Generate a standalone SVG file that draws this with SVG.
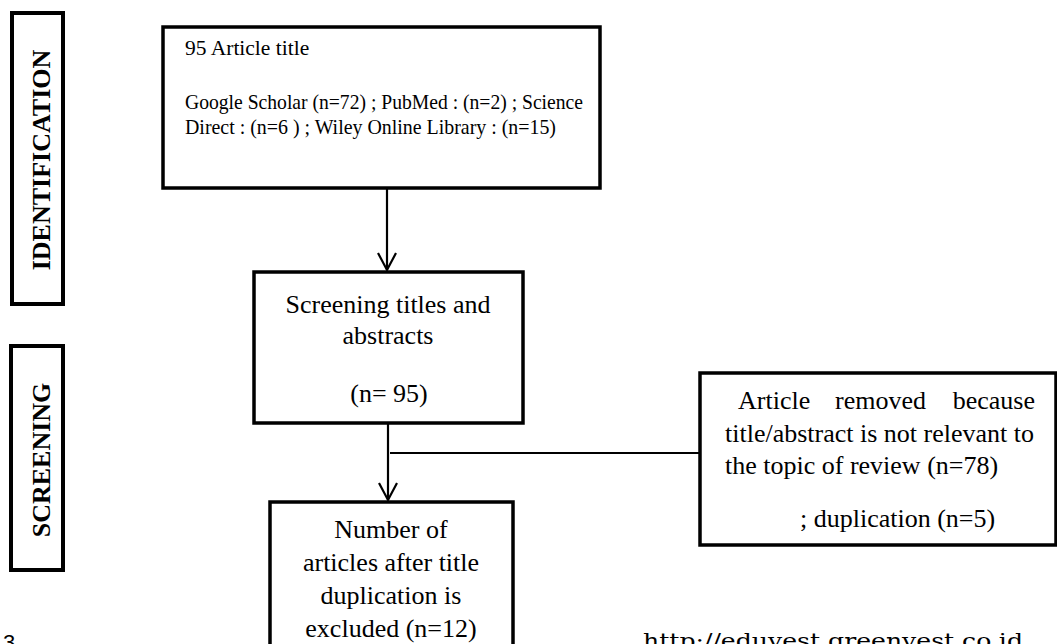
<svg xmlns="http://www.w3.org/2000/svg" width="1057" height="644" viewBox="0 0 1057 644">
  <style>
    .box { fill: #ffffff; stroke: #000000; stroke-width: 3.5; }
    .lbl { fill: #ffffff; stroke: #000000; stroke-width: 4; }
    .t { font-family: "Liberation Serif", "Times New Roman", serif; font-size: 26px; fill: #000000; }
    .ts { font-family: "Liberation Serif", "Times New Roman", serif; font-size: 21.5px; fill: #000000; }
    .tc { text-anchor: middle; }
    .vb { font-family: "Liberation Serif", "Times New Roman", serif; font-size: 26px; font-weight: bold; fill: #000000; text-anchor: middle; }
    .conn { stroke: #000000; stroke-width: 2.2; fill: none; }
  </style>
  <defs>
    <marker id="open" markerWidth="22" markerHeight="20" refX="18" refY="10" orient="auto" markerUnits="userSpaceOnUse">
      <path d="M1,1 L18,10 L1,19" fill="none" stroke="#000000" stroke-width="2.2"/>
    </marker>
  </defs>
  <rect width="1057" height="644" fill="#ffffff"/>

  <g id="label-identification">
    <rect class="lbl" x="12" y="13" width="51" height="291"/>
    <text class="vb" transform="translate(50,160) rotate(-90)">IDENTIFICATION</text>
  </g>
  <g id="label-screening">
    <rect class="lbl" x="11" y="346" width="52" height="224"/>
    <text class="vb" transform="translate(50,460) rotate(-90)">SCREENING</text>
  </g>

  <g id="node-identification">
    <rect class="box" x="163" y="27" width="437" height="161"/>
    <text class="ts" x="185" y="55">95 Article title</text>
    <text class="ts" x="185" y="109" textLength="398" lengthAdjust="spacingAndGlyphs">Google Scholar (n=72) ; PubMed : (n=2) ; Science</text>
    <text class="ts" x="185" y="134" textLength="371" lengthAdjust="spacingAndGlyphs">Direct : (n=6 ) ; Wiley Online Library : (n=15)</text>
  </g>

  <g id="node-screening">
    <rect class="box" x="254" y="272" width="269" height="151"/>
    <text class="t tc" x="388" y="313">Screening titles and</text>
    <text class="t tc" x="388" y="344">abstracts</text>
    <text class="t tc" x="389" y="402">(n= 95)</text>
  </g>

  <g id="node-removed">
    <rect class="box" x="700" y="373" width="356" height="172"/>
    <text class="t" x="738" y="409">Article</text>
    <text class="t" x="835" y="409">removed</text>
    <text class="t" x="1035" y="409" text-anchor="end">because</text>
    <text class="t" x="725" y="442">title/abstract is not relevant to</text>
    <text class="t" x="725" y="474">the topic of review (n=78)</text>
    <text class="t" x="800" y="527">; duplication (n=5)</text>
  </g>

  <g id="node-included">
    <rect class="box" x="270" y="502" width="243" height="160"/>
    <text class="t tc" x="391" y="538">Number of</text>
    <text class="t tc" x="391" y="571">articles after title</text>
    <text class="t tc" x="391" y="604">duplication is</text>
    <text class="t tc" x="391" y="637">excluded (n=12)</text>
  </g>

  <g id="connectors">
    <line class="conn" x1="387" y1="188" x2="387" y2="270" marker-end="url(#open)"/>
    <line class="conn" x1="388" y1="423" x2="388" y2="500" marker-end="url(#open)"/>
    <line class="conn" x1="390" y1="453" x2="700" y2="453"/>
  </g>

  <g id="page-footer">
    <text x="3" y="650" style="font-family: 'Liberation Sans', Arial, sans-serif; font-size: 22px; fill: #000000;">3</text>
    <text x="643" y="648" textLength="380" lengthAdjust="spacingAndGlyphs" style="font-family: 'DejaVu Serif', serif; font-size: 21px; fill: #000000;">http://eduvest.greenvest.co.id</text>
  </g>
</svg>
